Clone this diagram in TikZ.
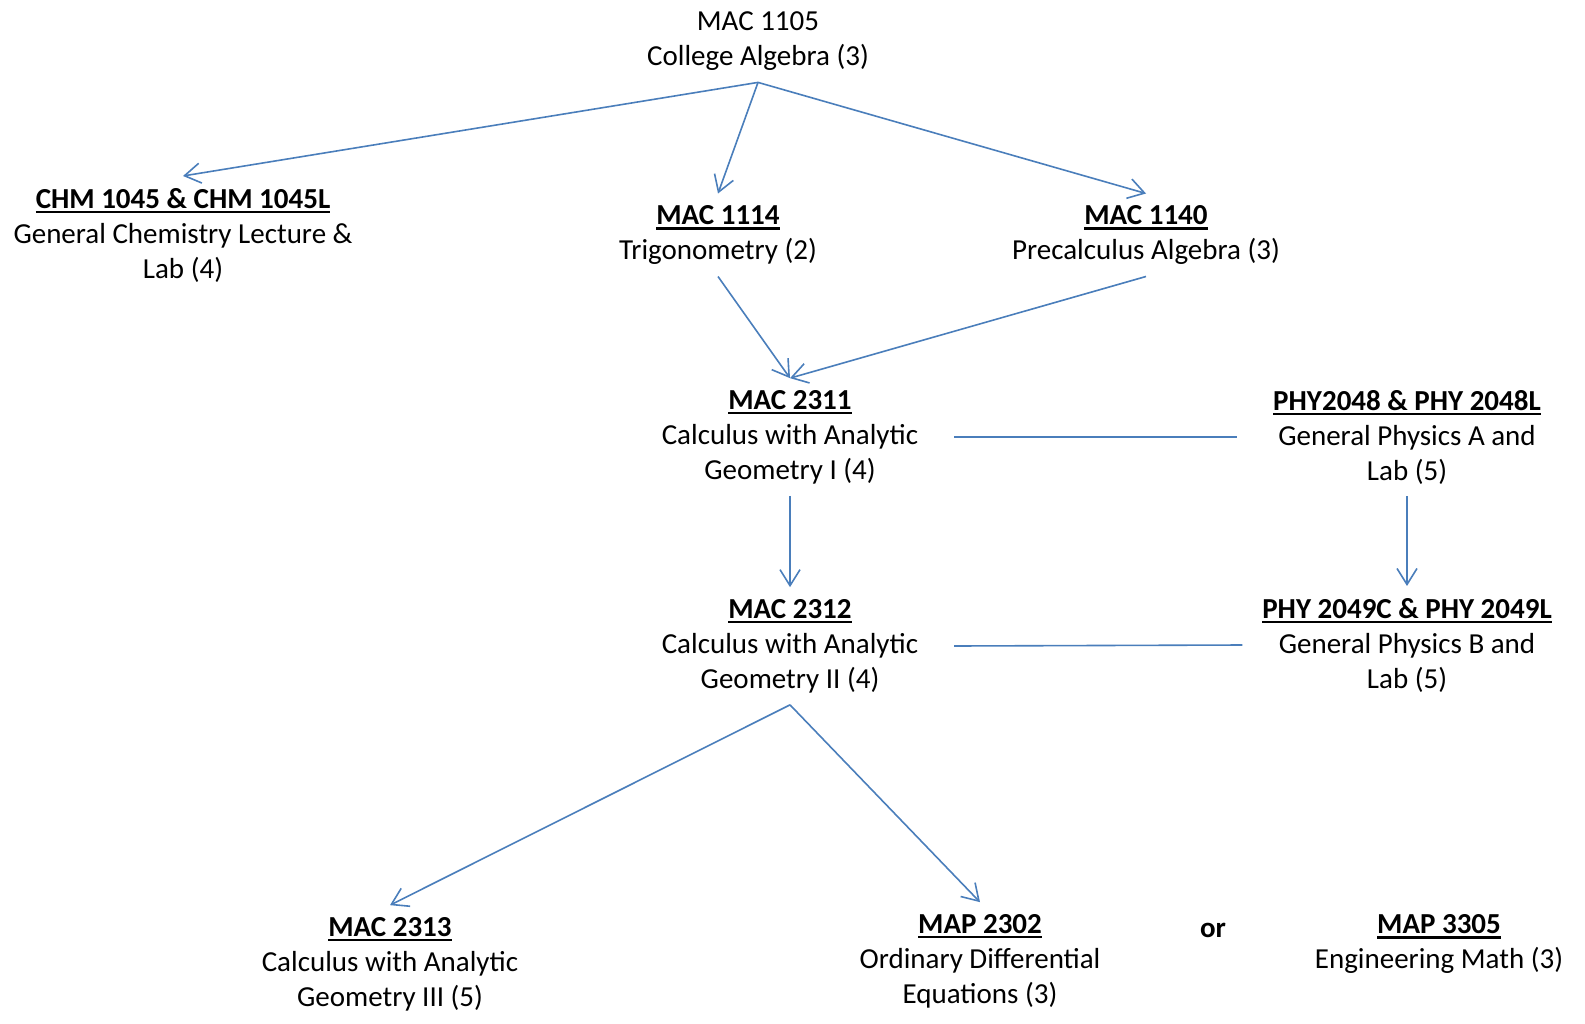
\documentclass[tikz,border=0pt]{standalone}
\usepackage{fontspec}
\setmainfont{Carlito}
\usetikzlibrary{arrows.meta,calc}
\definecolor{linkblue}{RGB}{74,126,187}
\newcommand{\course}[1]{\setbox0\hbox{\bfseries #1}\rlap{\rule[-2.6pt]{\wd0}{1.2pt}}\box0}
\tikzstyle{line} = [draw=linkblue, line width=0.8pt, -{Straight Barb[length=8pt,width=10pt]}]
\tikzstyle{link} = [draw=linkblue, line width=0.8pt]
\tikzstyle{block} = [align=center, inner sep=0pt, outer ysep=6pt, outer xsep=18pt, font=\fontsize{14.5}{17.5}\selectfont]

\begin{document}
\begin{tikzpicture}[x=0.5pt, y=-0.5pt]
        \useasboundingbox (0,0) rectangle (1585,1023);
        \node[block] (alg) at (758,41) {MAC 1105\\College Algebra (3)};
        \node[block] (chm) at (183,235) {\course{CHM 1045 \& CHM 1045L}\\General Chemistry Lecture \&\\Lab (4)};
        \node[block] (trig) at (718,235) {\course{MAC 1114}\\Trigonometry (2)};
        \node[block] (precalc) at (1146,235) {\course{MAC 1140}\\Precalculus Algebra (3)};
        \node[block] (calc1) at (790,437) {\course{MAC 2311}\\Calculus with Analytic\\Geometry I (4)};
        \node[block] (phya) at (1407,437) {\course{PHY2048 \& PHY 2048L}\\General Physics A and\\Lab (5)};
        \node[block] (calc2) at (790,646) {\course{MAC 2312}\\Calculus with Analytic\\Geometry II (4)};
        \node[block, outer xsep=10pt] (phyb) at (1407,645) {\course{PHY 2049C \& PHY 2049L}\\General Physics B and\\Lab (5)};
        \node[block] (calc3) at (390,964) {\course{MAC 2313}\\Calculus with Analytic\\Geometry III (5)};
        \node[block] (ode) at (980,961) {\course{MAP 2302}\\Ordinary Differential\\Equations (3)};
        \node[block, font=\fontsize{14.5}{17.5}\selectfont\bfseries] (orword) at (1213,930) {or};
        \node[block] (eng) at (1439,944) {\course{MAP 3305}\\Engineering Math (3)};
        \path[line] (alg.south) -- (chm.north);
        \path[line] (alg.south) -- (trig.north);
        \path[line] (alg.south) -- (precalc.north);
        \path[line] (trig.south) -- (calc1.north);
        \path[line] (precalc.south) -- (calc1.north);
        \path[line] (calc1.south) -- (calc2.north);
        \path[line] (phya.south) -- (phyb.north);
        \path[link] (calc1.east) -- (phya.west);
        \path[link] (calc2.east) -- (phyb.west);
        \path[line] (calc2.south) -- (calc3.north);
        \path[line] (calc2.south) -- (ode.north);
\end{tikzpicture}
\end{document}
